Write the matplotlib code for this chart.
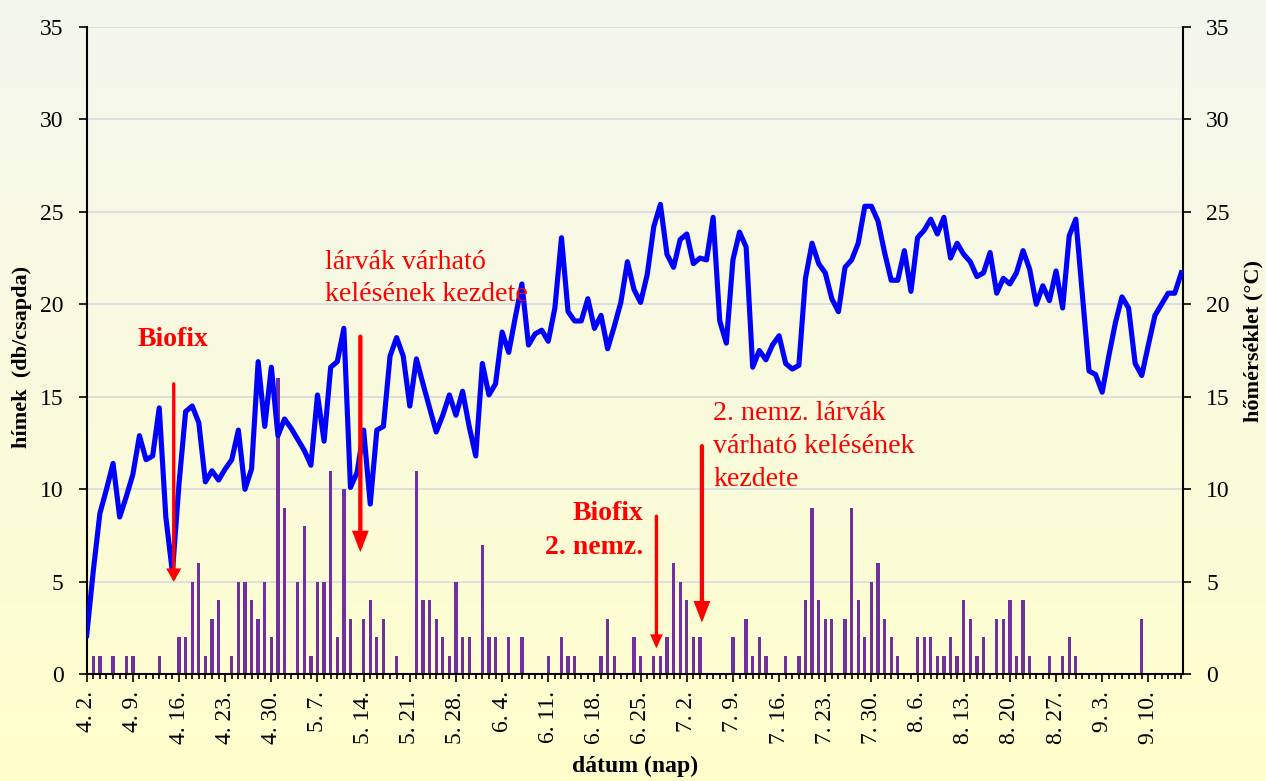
import numpy as np
import matplotlib
matplotlib.use("Agg")
import matplotlib.pyplot as plt
from matplotlib.ticker import MultipleLocator, FixedLocator

plt.rcParams['font.family'] = ['Liberation Serif', 'DejaVu Serif']

# ---------------- data ----------------
# day index 0 = 4. 2. (daily values up to 9. 15.)
days = list(range(167))

temperature = [
    2.1, 5.6, 8.7, 10.0, 11.4, 8.5, 9.6, 10.8, 12.9, 11.6,
    11.8, 14.4, 8.5, 5.5, 10.3, 14.2, 14.5, 13.6, 10.4, 11.0,
    10.5, 11.1, 11.6, 13.2, 10.0, 11.1, 16.9, 13.4, 16.6, 12.9,
    13.8, 13.3, 12.7, 12.1, 11.3, 15.1, 12.6, 16.6, 16.9, 18.7,
    10.1, 10.9, 13.2, 9.2, 13.2, 13.4, 17.2, 18.2, 17.2, 14.5,
    17.05, 15.7, 14.4, 13.1, 14.0, 15.1, 14.0, 15.3, 13.4, 11.8,
    16.8, 15.1, 15.7, 18.5, 17.4, 19.3, 21.1, 17.8, 18.4, 18.6,
    18.0, 19.8, 23.6, 19.6, 19.1, 19.1, 20.3, 18.7, 19.4, 17.6,
    18.8, 20.1, 22.3, 20.8, 20.1, 21.6, 24.2, 25.4, 22.7, 22.0,
    23.5, 23.8, 22.2, 22.5, 22.4, 24.7, 19.1, 17.9, 22.4, 23.9,
    23.1, 16.6, 17.5, 17.0, 17.8, 18.3, 16.8, 16.5, 16.7, 21.4,
    23.3, 22.2, 21.7, 20.3, 19.6, 22.0, 22.4, 23.3, 25.3, 25.3,
    24.5, 22.8, 21.3, 21.3, 22.9, 20.7, 23.6, 24.0, 24.6, 23.8,
    24.7, 22.5, 23.3, 22.7, 22.3, 21.5, 21.7, 22.8, 20.6, 21.4,
    21.1, 21.7, 22.9, 21.9, 20.0, 21.0, 20.2, 21.8, 19.8, 23.7,
    24.6, 20.5, 16.4, 16.2, 15.25, 17.2, 19.0, 20.4, 19.8, 16.8,
    16.15, 17.8, 19.4, 20.0, 20.6, 20.6, 21.7,
]

males = [
    0, 1, 1, 0, 1, 0, 1, 1, 0, 0,
    0, 1, 0, 0, 2, 2, 5, 6, 1, 3,
    4, 0, 1, 5, 5, 4, 3, 5, 2, 16,
    9, 0, 5, 8, 1, 5, 5, 11, 2, 10,
    3, 0, 3, 4, 2, 3, 0, 1, 0, 0,
    11, 4, 4, 3, 2, 1, 5, 2, 2, 0,
    7, 2, 2, 0, 2, 0, 2, 0, 0, 0,
    1, 0, 2, 1, 1, 0, 0, 0, 1, 3,
    1, 0, 0, 2, 1, 0, 1, 1, 2, 6,
    5, 4, 2, 2, 0, 0, 0, 0, 2, 0,
    3, 1, 2, 1, 0, 0, 1, 0, 1, 4,
    9, 4, 3, 3, 0, 3, 9, 4, 2, 5,
    6, 3, 2, 1, 0, 0, 2, 2, 2, 1,
    1, 2, 1, 4, 3, 1, 2, 0, 3, 3,
    4, 1, 4, 1, 0, 0, 1, 0, 1, 2,
    1, 0, 0, 0, 0, 0, 0, 0, 0, 0,
    3, 0, 0, 0, 0, 0, 0,
]

xtick_days = list(range(0, 162, 7))
xtick_labels = ["4. 2.", "4. 9.", "4. 16.", "4. 23.", "4. 30.", "5. 7.",
                "5. 14.", "5. 21.", "5. 28.", "6. 4.", "6. 11.", "6. 18.",
                "6. 25.", "7. 2.", "7. 9.", "7. 16.", "7. 23.", "7. 30.",
                "8. 6.", "8. 13.", "8. 20.", "8. 27.", "9. 3.", "9. 10."]
yticks = [0, 5, 10, 15, 20, 25, 30, 35]

# ---------------- figure ----------------
W, H = 1266, 781
fig = plt.figure(figsize=(W / 100, H / 100), dpi=100)

# background gradient
bg = fig.add_axes([0, 0, 1, 1], zorder=-10)
top_c = np.array([0.955, 0.965, 0.935])
bot_c = np.array([1.0, 1.0, 0.80])
t = np.linspace(0, 1, 256)[:, None]
grad = (top_c * (1 - t) + bot_c * t)[:, None, :]
bg.imshow(grad, aspect='auto', extent=[0, 1, 0, 1], origin='upper')
bg.axis('off')

x0, x1 = 86.7, 1183.3
y0, y1 = 674.3, 26.8
ax = fig.add_axes([x0 / W, 1 - y0 / H, (x1 - x0) / W, (y0 - y1) / H])
ax.patch.set_alpha(0)
ax2 = ax.twinx()
ax2.patch.set_alpha(0)

# grid
for v in yticks[1:]:
    ax.axhline(v, color='#D6D6E2', lw=1.1, zorder=0)

# bars
ax.bar(days, males, width=0.5, color='#7030A0', zorder=2)

# temperature line
ax2.plot(days, temperature, color='#0000FF', lw=3.7, solid_joinstyle='round', zorder=3)

for a in (ax, ax2):
    a.set_xlim(0, 166.3)
    a.set_ylim(0, 35)
    a.spines['top'].set_visible(False)
    for s in ('left', 'right', 'bottom'):
        a.spines[s].set_linewidth(1.5)

ax.spines['right'].set_visible(False)
ax2.spines['left'].set_visible(False)
ax2.spines['bottom'].set_visible(False)

ax.set_yticks(yticks)
ax2.set_yticks(yticks)
ax.tick_params(axis='y', direction='out', length=5.5, width=1.2, labelsize=17, pad=11)
ax2.tick_params(axis='y', direction='out', length=5.5, width=1.2, labelsize=17, pad=11)

ax.xaxis.set_major_locator(FixedLocator(xtick_days))
ax.set_xticklabels(xtick_labels, rotation=90, va='top', ha='center')
ax.xaxis.set_minor_locator(MultipleLocator(1))
ax.tick_params(axis='x', which='major', direction='out', length=5.5, width=1.2,
               labelsize=17, pad=6.5)
ax.tick_params(axis='x', which='minor', direction='out', length=3.6, width=1.2)

# axis labels
ax.set_ylabel('hímek  (db/csapda)', fontsize=16, fontweight='bold')
ax.yaxis.set_label_coords(-0.0495, 0.49)
ax2.set_ylabel('hőmérséklet (°C)', fontsize=16, fontweight='bold', rotation=90)
ax2.yaxis.set_label_coords(1.0545, 0.515)
ax.set_xlabel('dátum (nap)', fontsize=17, fontweight='bold')
ax.xaxis.set_label_coords(0.5, -0.1416)
ax.xaxis.label.set_va('center')

# annotations
red = '#FF0000'
def arrow(x, ytail, ytip, lw, hw, hl):
    ax2.annotate('', xy=(x, ytip), xytext=(x, ytail),
                 arrowprops=dict(arrowstyle=f'-|>,head_length={hl},head_width={hw}',
                                 color=red, lw=lw, shrinkA=0, shrinkB=0,
                                 mutation_scale=10, joinstyle='miter'),
                 zorder=5)

arrow(13.2, 15.7, 5.0, 2.4, 0.34, 0.6)
arrow(41.5, 18.25, 6.6, 3.1, 0.38, 0.97)
arrow(86.4, 8.55, 1.4, 2.4, 0.27, 0.6)
arrow(93.3, 12.33, 2.8, 3.1, 0.38, 0.97)

fs = 20.2
ax2.text(13.13, 17.77, 'Biofix', color=red, fontsize=20, fontweight='bold',
         ha='center', va='baseline', zorder=6)
ax2.text(36.2, 21.91, 'lárvák várható', color=red, fontsize=fs,
         ha='left', va='baseline', zorder=6)
ax2.text(36.2, 20.16, 'kelésének kezdete', color=red, fontsize=fs,
         ha='left', va='baseline', zorder=6)
ax2.text(84.4, 8.36, 'Biofix', color=red, fontsize=20, fontweight='bold',
         ha='right', va='baseline', zorder=6)
ax2.text(84.4, 6.48, '2. nemz.', color=red, fontsize=20, fontweight='bold',
         ha='right', va='baseline', zorder=6)
ax2.text(95.0, 13.76, '2. nemz. lárvák', color=red, fontsize=fs,
         ha='left', va='baseline', zorder=6)
ax2.text(95.0, 11.96, 'várható kelésének', color=red, fontsize=fs,
         ha='left', va='baseline', zorder=6)
ax2.text(95.0, 10.16, 'kezdete', color=red, fontsize=fs,
         ha='left', va='baseline', zorder=6)

fig.savefig('out.png', dpi=100)
